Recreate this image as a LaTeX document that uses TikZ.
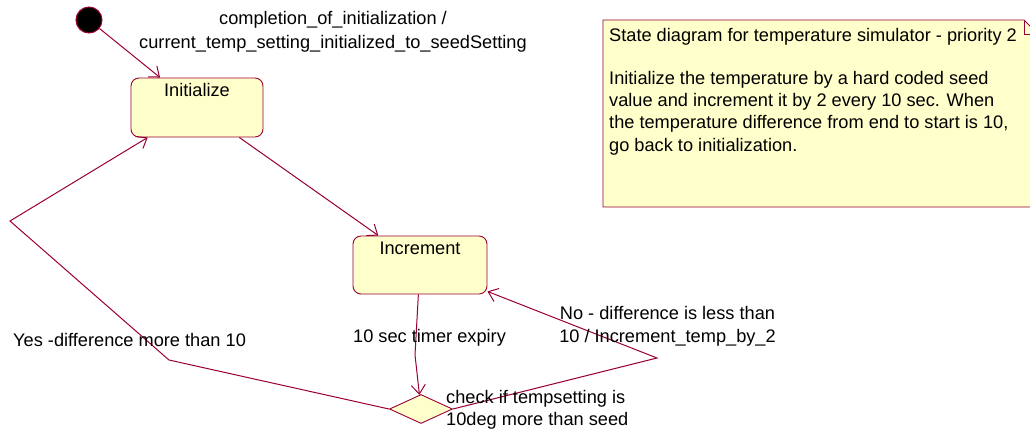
\documentclass[tikz,border=0pt]{standalone}
\usepackage{fontspec}
\setmainfont{Liberation Sans}
\usetikzlibrary{shapes.geometric,arrows.meta}
\definecolor{umlline}{RGB}{153,0,51}
\definecolor{umlfill}{RGB}{255,255,204}
\begin{document}
\begin{tikzpicture}[x=1pt,y=-1pt,
	state/.style={draw=umlline,fill=umlfill,rounded corners=8pt,line width=0.9pt,inner sep=0pt},
	choice/.style={draw=umlline,fill=umlfill,diamond,line width=0.9pt,inner sep=0pt,minimum width=63pt,minimum height=29pt},
	trans/.style={draw=umlline,line width=1pt,-{Straight Barb[length=9pt,width=14pt,line width=1pt]}},
	txt/.style={font=\fontsize{18.2}{23}\selectfont,inner sep=0pt}]

\useasboundingbox (0,0) rectangle (1030,432);

% states
\node [fill=black,draw=umlline,line width=1pt,circle,minimum size=26pt,inner sep=0pt] (start) at (89,20) {};
\node [state,minimum width=132pt,minimum height=59pt,
	label={[txt,anchor=north,yshift=-5.5pt]north:Initialize}] (init) at (197,107.5) {};
\node [state,minimum width=134pt,minimum height=58pt,
	label={[txt,anchor=north,yshift=-6pt]north:Increment}] (inc) at (420,265) {};
\node [choice] (check) at (421,409) {};

% bends
\coordinate (timerbend) at (415,355);
\coordinate (nobend) at (657,358);
\coordinate (yesbend) at (169,360);
\coordinate (yestop) at (10,221);

% transitions
\draw [trans] (start) -- (init);
\draw [trans] (init) -- (inc);
\draw [trans] (inc) -- (timerbend) -- (check);
\draw [trans] (check.east) -- (nobend) -- (inc);
\draw [trans] (check.west) -- (yesbend) -- (yestop) -- (init);

% labels
\node [txt,align=center,font=\fontsize{18.2}{24}\selectfont] (startlbl) at (333,32) {completion\_of\_initialization /\\current\_temp\_setting\_initialized\_to\_seedSetting};
\node [txt,anchor=west] (timerlbl) at (353,338) {10 sec timer expiry};
\node [txt,align=center] (nolbl) at (667.5,326.5) {No - difference is less than\\10 / Increment\_temp\_by\_2};
\node [txt,anchor=west] (yeslbl) at (13,340) {Yes -difference more than 10};
\node [txt,align=left,anchor=west,font=\fontsize{18.2}{22}\selectfont] (checklbl) at (446,410) {check if tempsetting is\\10deg more than seed};

% note
\draw [draw=umlline,fill=umlfill,line width=0.9pt] (603,20) -- (1024,20) -- (1038,34) -- (1038,207) -- (603,207) -- cycle;
\draw [draw=umlline,line width=0.9pt] (1024,20) -- (1024,34) -- (1038,34);
\node [txt,align=left,anchor=north west,font=\fontsize{18.2}{22.3}\selectfont] (notetext) at (609,28) {State diagram for temperature simulator - priority 2\\[20.7pt]Initialize the temperature by a hard coded seed\\value and increment it by 2 every 10 sec. When\\the temperature difference from end to start is 10,\\go back to initialization.};

\end{tikzpicture}
\end{document}
